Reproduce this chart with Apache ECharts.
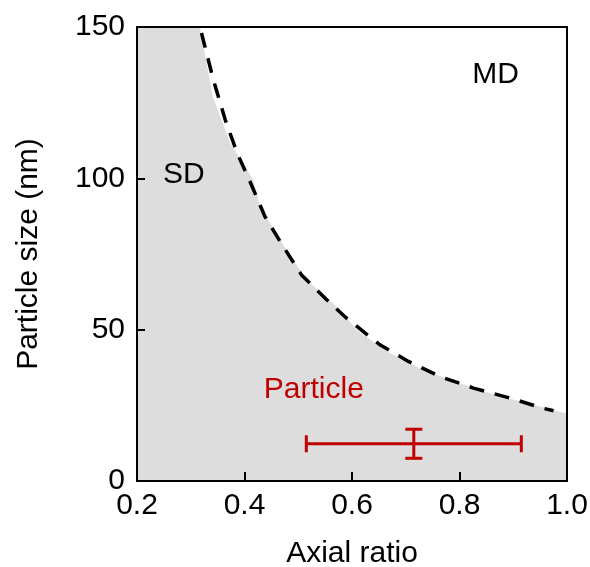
<!DOCTYPE html>
<html>
<head>
<meta charset="utf-8">
<script src="https://cdn.jsdelivr.net/npm/echarts@6/dist/echarts.min.js"></script>
<style>html,body{margin:0;padding:0;background:#fff;}#c{width:590px;height:567px;}</style>
</head>
<body>
<div id="c"></div>
<script>
// Shaded SD region boundary (axial ratio, particle size nm)
var regionX = [0.2, 0.317, 0.341, 0.373, 0.416, 0.429, 0.485, 0.522, 0.578, 0.609, 0.665, 0.720, 0.782, 0.857, 0.925, 1.0];
var regionY = [150, 150, 127.1, 111.8, 99.6, 90.7, 74.2, 65.4, 56.6, 49.9, 42.8, 37.8, 33.4, 29.0, 25.7, 22.3];
// Dashed SD/MD boundary curve
var curveX = [0.320, 0.342, 0.364, 0.386, 0.413, 0.438, 0.472, 0.506, 0.553, 0.590, 0.652, 0.705, 0.764, 0.826, 0.894, 0.956, 0.975];
var curveY = [148, 132.6, 119.4, 108.5, 97.8, 87.4, 77.5, 68.1, 59.9, 53.8, 45.0, 39.5, 34.5, 30.7, 27.4, 24.0, 23.2];
// Particle measurement with error bars
var particleX = [0.715];
var particleY = [12.3];
var particleXErr = [0.2];
var particleYErr = [4.8];
// Annotations
var noteText = ['SD', 'MD', 'Particle'];
var noteX = [0.287, 0.867, 0.529];
var noteY = [101.2, 134.3, 30.1];
var noteColor = ['#000000', '#000000', '#c00000'];
// Axes
var xTicks = [0.2, 0.4, 0.6, 0.8, 1.0];
var yTicks = [0, 50, 100, 150];

var FONT = 'Liberation Sans, Arial, sans-serif';
var FS = 30;

var chart = echarts.init(document.getElementById('c'), null, {renderer: 'canvas'});

var regionData = regionX.map(function (x, i) { return [x, regionY[i]]; });
var curveData = curveX.map(function (x, i) { return [x, curveY[i]]; });
var particleData = particleX.map(function (x, i) { return [x, particleY[i], particleXErr[i], particleYErr[i]]; });
var noteData = noteText.map(function (t, i) {
  return {value: [noteX[i], noteY[i]], name: t, label: {color: noteColor[i]}};
});

var frameAxis = {
  axisLine: {show: true, onZero: false, lineStyle: {color: '#000', width: 2}},
  axisTick: {show: false}, axisLabel: {show: false}, splitLine: {show: false}, z: 10
};

chart.setOption({
  animation: false,
  backgroundColor: '#fff',
  grid: {left: 137, right: 23, top: 27, bottom: 86, containLabel: false, outerBoundsMode: 'none'},
  xAxis: [{
    type: 'value', min: xTicks[0], max: xTicks[xTicks.length - 1], interval: 0.2,
    position: 'bottom', z: 10,
    name: 'Axial ratio', nameLocation: 'middle', nameGap: 58,
    nameTextStyle: {color: '#000', fontSize: FS, fontFamily: FONT},
    axisLine: {show: true, onZero: false, lineStyle: {color: '#000', width: 2}},
    axisTick: {show: true, inside: true, length: 9, lineStyle: {color: '#000', width: 2}},
    axisLabel: {color: '#000', fontSize: FS, fontFamily: FONT, margin: 10,
      formatter: function (v) { return v.toFixed(1); }},
    splitLine: {show: false}
  }, Object.assign({type: 'value', min: xTicks[0], max: xTicks[xTicks.length - 1], position: 'top'}, frameAxis)],
  yAxis: [{
    type: 'value', min: yTicks[0], max: yTicks[yTicks.length - 1], interval: 50,
    position: 'left', z: 10,
    name: 'Particle size (nm)', nameLocation: 'middle', nameGap: 93,
    nameTextStyle: {color: '#000', fontSize: FS, fontFamily: FONT},
    axisLine: {show: true, onZero: false, lineStyle: {color: '#000', width: 2}},
    axisTick: {show: true, inside: true, length: 8, lineStyle: {color: '#000', width: 2}},
    axisLabel: {color: '#000', fontSize: FS, fontFamily: FONT, margin: 12},
    splitLine: {show: false}
  }, Object.assign({type: 'value', min: yTicks[0], max: yTicks[yTicks.length - 1], position: 'right'}, frameAxis)],
  series: [{
    type: 'line', data: regionData, symbol: 'none', silent: true,
    lineStyle: {width: 0, opacity: 0},
    areaStyle: {color: '#dddddd', opacity: 1, origin: 'start'}, z: 1
  }, {
    type: 'line', data: curveData, symbol: 'none', silent: true,
    lineStyle: {color: '#000', width: 3.5, type: [15, 11]}, z: 3
  }, {
    type: 'custom', data: particleData, z: 5,
    renderItem: function (params, api) {
      var x = api.value(0), y = api.value(1), ex = api.value(2), ey = api.value(3);
      var l = api.coord([x - ex, y]), r = api.coord([x + ex, y]);
      var t = api.coord([x, y + ey]), b = api.coord([x, y - ey]);
      var cap = 8.5;
      var st = {stroke: '#c00000', lineWidth: 3};
      return {type: 'group', children: [
        {type: 'line', shape: {x1: l[0], y1: l[1], x2: r[0], y2: r[1]}, style: st},
        {type: 'line', shape: {x1: l[0], y1: l[1] - cap, x2: l[0], y2: l[1] + cap}, style: st},
        {type: 'line', shape: {x1: r[0], y1: r[1] - cap, x2: r[0], y2: r[1] + cap}, style: st},
        {type: 'line', shape: {x1: t[0], y1: t[1], x2: b[0], y2: b[1]}, style: st},
        {type: 'line', shape: {x1: t[0] - cap, y1: t[1], x2: t[0] + cap, y2: t[1]}, style: st},
        {type: 'line', shape: {x1: b[0] - cap, y1: b[1], x2: b[0] + cap, y2: b[1]}, style: st}
      ]};
    }
  }, {
    type: 'scatter', data: noteData, symbolSize: 0, silent: true, z: 6,
    itemStyle: {opacity: 1},
    label: {show: true, position: 'inside', formatter: '{b}', fontSize: FS, fontFamily: FONT,
      opacity: 1, textBorderWidth: 0}
  }]
});
</script>
</body>
</html>
